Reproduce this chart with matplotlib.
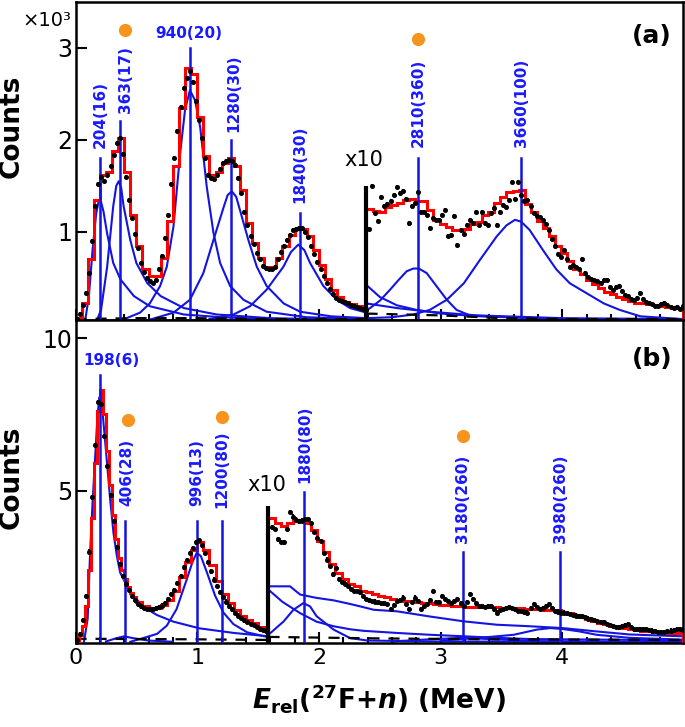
import numpy as np
import matplotlib
matplotlib.use("Agg")
import matplotlib.pyplot as plt
from matplotlib.ticker import MultipleLocator

plt.rcParams['font.family'] = 'DejaVu Sans'
plt.rcParams['mathtext.fontset'] = 'custom'
plt.rcParams['mathtext.rm'] = 'DejaVu Sans:bold'
plt.rcParams['mathtext.bf'] = 'DejaVu Sans:bold'
plt.rcParams['mathtext.it'] = 'DejaVu Sans:italic:bold'

# ---------------- panel (a) data (counts x 10^3) ----------------
# data points, 25 keV bins; x10 region starts at the black bar
cut_a = 2.39
xa_lo = 0.0125 + 0.025 * np.arange(96)
ya_lo = [0.05, 0.11, 0.20, 0.33, 0.55, 0.90, 1.28, 1.52, 1.60, 1.55,
         1.62, 1.72, 1.83, 1.97, 2.02, 1.85, 1.60, 1.35, 1.15, 0.98,
         0.82, 0.66, 0.56, 0.50, 0.46, 0.44, 0.48, 0.59, 0.74, 0.93,
         1.18, 1.52, 1.80, 2.10, 2.36, 2.56, 2.67, 2.75, 2.63, 2.42,
         2.22, 2.02, 1.80, 1.62, 1.58, 1.57, 1.62, 1.68, 1.75, 1.77,
         1.78, 1.77, 1.73, 1.58, 1.42, 1.22, 1.07, 0.95, 0.87, 0.77,
         0.70, 0.63, 0.61, 0.59, 0.60, 0.62, 0.70, 0.78, 0.85, 0.91,
         0.97, 1.02, 1.03, 1.04, 1.04, 1.00, 0.94, 0.85, 0.76, 0.67,
         0.60, 0.52, 0.44, 0.38, 0.32, 0.28, 0.26, 0.25, 0.24, 0.22,
         0.20, 0.19, 0.18, 0.17, 0.16, 0.15]
xa_hi = 2.4125 + 0.025 * np.arange(104)
ya_hi = [1.03, 1.50, 1.20, 1.12, 1.38, 1.28, 1.30, 1.33, 1.40, 1.49,
         1.42, 1.44, 1.36, 1.09, 1.28, 1.31, 1.43, 1.22, 1.21, 1.18,
         1.04, 1.15, 1.13, 1.13, 1.18, 1.24, 0.95, 0.96, 1.17, 0.86,
         1.02, 0.98, 1.07, 1.13, 1.10, 1.22, 1.07, 1.22, 1.10, 1.07,
         1.20, 1.26, 1.07, 1.22, 1.29, 1.27, 1.35, 1.54, 1.36, 1.54,
         1.40, 1.33, 1.35, 1.28, 1.20, 1.17, 1.16, 1.13, 1.08, 1.02,
         0.92, 0.85, 0.76, 0.73, 0.80, 0.70, 0.62, 0.64, 0.62, 0.60,
         0.70, 0.55, 0.51, 0.49, 0.48, 0.46, 0.44, 0.47, 0.48, 0.40,
         0.37, 0.40, 0.41, 0.36, 0.31, 0.30, 0.27, 0.26, 0.28, 0.33,
         0.27, 0.24, 0.22, 0.21, 0.19, 0.19, 0.21, 0.22, 0.20, 0.18,
         0.17, 0.18, 0.16, 0.19]

# total fit (red histogram)
fa_lo = [0.06, 0.22, 0.70, 1.35, 1.62, 1.65, 1.88, 2.02, 1.65, 1.18,
         0.85, 0.60, 0.52, 0.52, 0.72, 1.12, 1.72, 2.35, 2.78, 2.72,
         2.25, 1.82, 1.62, 1.65, 1.75, 1.80, 1.72, 1.45, 1.10, 0.88,
         0.72, 0.62, 0.62, 0.72, 0.85, 0.97, 1.03, 1.03, 0.95, 0.80,
         0.64, 0.49, 0.37, 0.29, 0.24, 0.21, 0.19, 0.17]
fa_hi = [1.25, 1.23, 1.22, 1.27, 1.29, 1.31, 1.35, 1.36, 1.34, 1.33,
         1.24, 1.13, 1.08, 1.05, 1.02, 1.02, 1.03, 1.08, 1.11, 1.18,
         1.22, 1.31, 1.38, 1.43, 1.44, 1.45, 1.30, 1.22, 1.12, 1.04,
         0.95, 0.85, 0.77, 0.68, 0.60, 0.54, 0.48, 0.43, 0.39, 0.35,
         0.32, 0.29, 0.27, 0.25, 0.23, 0.22, 0.21, 0.20, 0.19, 0.18,
         0.18, 0.17]

# resonance components (blue)
comp_a = [
    ([0.08, 0.11, 0.14, 0.17, 0.19, 0.205, 0.23, 0.26, 0.31, 0.37, 0.48, 0.61, 0.89, 1.2, 1.6, 2.0, 2.39],
     [0.04, 0.30, 0.80, 1.20, 1.33, 1.35, 1.22, 0.98, 0.66, 0.48, 0.30, 0.19, 0.10, 0.07, 0.05, 0.04, 0.04]),
    ([0.17, 0.21, 0.26, 0.31, 0.335, 0.355, 0.375, 0.395, 0.45, 0.50, 0.59, 0.70, 0.89, 1.16, 1.6, 2.39],
     [0.02, 0.15, 0.62, 1.28, 1.50, 1.55, 1.48, 1.28, 0.91, 0.66, 0.44, 0.30, 0.17, 0.10, 0.06, 0.04]),
    ([0.30, 0.42, 0.53, 0.61, 0.695, 0.75, 0.805, 0.86, 0.90, 0.94, 0.982, 1.024, 1.078, 1.133, 1.188, 1.27, 1.38, 1.57, 1.9, 2.39],
     [0.03, 0.06, 0.12, 0.22, 0.41, 0.62, 1.06, 1.86, 2.33, 2.54, 2.43, 2.14, 1.49, 0.99, 0.66, 0.41, 0.26, 0.13, 0.07, 0.05]),
    ([0.6, 0.805, 0.94, 1.05, 1.133, 1.215, 1.25, 1.284, 1.32, 1.35, 1.42, 1.489, 1.57, 1.71, 1.845, 2.1, 2.39],
     [0.04, 0.12, 0.26, 0.55, 0.91, 1.26, 1.40, 1.44, 1.38, 1.24, 0.91, 0.62, 0.41, 0.22, 0.13, 0.08, 0.06]),
    ([1.1, 1.298, 1.434, 1.57, 1.708, 1.77, 1.83, 1.88, 1.927, 2.036, 2.146, 2.255, 2.39],
     [0.05, 0.10, 0.19, 0.37, 0.62, 0.78, 0.86, 0.80, 0.66, 0.41, 0.26, 0.17, 0.12]),
    ([2.39, 2.42, 2.50, 2.584, 2.65, 2.72, 2.775, 2.82, 2.885, 2.97, 3.05, 3.13, 3.24, 3.4, 4.0, 4.99],
     [0.15, 0.17, 0.25, 0.37, 0.47, 0.57, 0.60, 0.60, 0.55, 0.40, 0.26, 0.15, 0.09, 0.08, 0.05, 0.04]),
    ([2.39, 2.6, 2.775, 2.91, 3.05, 3.19, 3.32, 3.46, 3.54, 3.61, 3.66, 3.73, 3.84, 3.95, 4.06, 4.2, 4.34, 4.47, 4.64, 4.99],
     [0.06, 0.07, 0.10, 0.15, 0.26, 0.44, 0.69, 0.95, 1.07, 1.13, 1.11, 1.02, 0.80, 0.59, 0.44, 0.33, 0.22, 0.15, 0.08, 0.05]),
    ([2.39, 2.5, 2.64, 2.8, 3.0, 3.32, 4.0, 4.99],
     [0.42, 0.29, 0.20, 0.15, 0.11, 0.08, 0.05, 0.04]),
    ([2.39, 2.64, 2.91, 3.3, 4.0, 4.99],
     [0.22, 0.17, 0.13, 0.09, 0.06, 0.05]),
]
bg_a = ([0.0, 0.5, 1.0, 1.5, 2.0, 2.39], [0.05, 0.06, 0.06, 0.05, 0.05, 0.05])
bg_a_hi = ([2.39, 3.0, 3.5, 4.0, 4.99], [0.11, 0.09, 0.06, 0.05, 0.05])

lines_a = [0.204, 0.363, 0.94, 1.28, 1.84, 2.81, 3.66]
tops_a = [1.80, 2.20, 3.00, 2.00, 1.20, 1.80, 1.80]
labels_a = ['204(16)', '363(17)', '940(20)', '1280(30)', '1840(30)', '2810(360)', '3660(100)']
lab_x_a = [0.203, 0.408, 0.929, 1.298, 1.845, 2.816, 3.665]
lab_y_a = [1.91, 2.29, 3.16, 2.09, 1.31, 1.92, 1.92]
dots_a = ([0.408, 2.81], [3.19, 3.10])

# ---------------- panel (b) data ----------------
cut_b = 1.585
xb_lo = 0.0125 + 0.025 * np.arange(63)
yb_lo = [0.10, 0.30, 0.75, 1.55, 3.00, 4.80, 6.50, 7.90, 7.85, 6.80,
         5.80, 4.85, 4.00, 3.15, 2.60, 2.20, 1.95, 1.74, 1.55, 1.40,
         1.29, 1.20, 1.14, 1.11, 1.10, 1.12, 1.16, 1.19, 1.23, 1.32,
         1.45, 1.60, 1.75, 1.98, 2.20, 2.48, 2.72, 2.95, 3.12, 3.30,
         3.38, 3.20, 2.95, 2.65, 2.35, 2.08, 1.86, 1.68, 1.50, 1.36,
         1.20, 1.10, 0.99, 0.90, 0.82, 0.74, 0.68, 0.62, 0.58, 0.52,
         0.47, 0.43, 0.40]
xb_hi = 1.6125 + 0.025 * np.arange(136)
yb_hi = [3.80, 3.75, 3.40, 3.32, 3.30, 3.75, 4.30, 4.15, 4.05, 3.99,
         4.02, 4.08, 4.06, 3.95, 3.65, 3.45, 3.35, 2.96, 2.74, 2.53,
         2.25, 2.45, 2.10, 2.00, 1.95, 1.87, 1.78, 1.71, 1.70, 1.66,
         1.55, 1.44, 1.42, 1.38, 1.36, 1.33, 1.32, 1.30, 1.28, 1.11,
         1.25, 1.38, 1.42, 1.49, 1.28, 1.11, 1.35, 1.49, 1.38, 1.11,
         1.22, 1.28, 1.40, 1.71, 1.33, 1.35, 1.55, 1.45, 1.38, 1.30,
         1.38, 1.44, 1.30, 1.22, 1.35, 1.60, 1.44, 1.30, 1.22, 1.20,
         1.17, 1.20, 1.22, 1.10, 1.00, 1.08, 1.11, 1.14, 1.17, 1.15,
         1.10, 1.06, 1.05, 1.03, 1.00, 1.15, 1.28, 1.18, 1.11, 1.15,
         1.22, 1.28, 1.15, 1.06, 1.03, 1.00, 1.00, 0.97, 0.95, 0.92,
         0.90, 0.89, 0.87, 0.84, 0.80, 0.78, 0.74, 0.72, 0.70, 0.68,
         0.63, 0.58, 0.56, 0.53, 0.51, 0.55, 0.58, 0.62, 0.52, 0.47,
         0.46, 0.47, 0.46, 0.45, 0.43, 0.41, 0.39, 0.36, 0.35, 0.37,
         0.40, 0.41, 0.43, 0.45, 0.46, 0.44]

fb_lo_edges = [0.0, 0.025, 0.05, 0.075, 0.1, 0.125, 0.15, 0.175, 0.2, 0.225,
               0.25, 0.275, 0.3, 0.325, 0.35, 0.375, 0.4, 0.425, 0.45, 0.475,
               0.5, 0.55, 0.6, 0.65, 0.7, 0.75, 0.8, 0.85, 0.9, 0.95,
               1.0, 1.05, 1.1, 1.15, 1.2, 1.25, 1.3, 1.35, 1.4, 1.45,
               1.5, 1.55, 1.585]
fb_lo = [0.08, 0.25, 0.55, 1.20, 2.40, 4.10, 5.90, 7.60, 8.30, 7.50,
         6.30, 5.20, 4.20, 3.40, 2.80, 2.40, 2.10, 1.85, 1.65, 1.50,
         1.35, 1.22, 1.14, 1.15, 1.24, 1.42, 1.72, 2.15, 2.65, 3.05,
         3.30, 3.05, 2.55, 2.02, 1.62, 1.32, 1.08, 0.90, 0.76, 0.64,
         0.54, 0.46]
fb_hi = [4.10, 3.95, 3.85, 3.95, 4.02, 4.05, 3.95, 3.70, 3.35, 3.00,
         2.60, 2.30, 2.10, 1.95, 1.87, 1.72, 1.68, 1.60, 1.53, 1.50,
         1.45, 1.42, 1.39, 1.37, 1.35, 1.31, 1.30, 1.27, 1.26, 1.24,
         1.21, 1.20, 1.19, 1.18, 1.18, 1.18, 1.17, 1.17, 1.16, 1.15,
         1.15, 1.14, 1.13, 1.11, 1.10, 1.09, 1.09, 1.08, 1.00, 0.97,
         0.92, 0.85, 0.78, 0.72, 0.66, 0.61, 0.57, 0.52, 0.49, 0.45,
         0.42, 0.40, 0.38, 0.36, 0.35, 0.34, 0.33, 0.32]

comp_b = [
    ([0.07, 0.10, 0.12, 0.14, 0.16, 0.18, 0.195, 0.216, 0.235, 0.257, 0.285, 0.312, 0.34, 0.367, 0.422, 0.477, 0.56, 0.668, 0.805, 1.02, 1.3, 1.585],
     [0.05, 0.80, 2.96, 4.60, 6.00, 7.40, 8.06, 7.85, 7.00, 6.00, 4.70, 3.61, 2.85, 2.31, 1.87, 1.55, 1.18, 0.92, 0.70, 0.48, 0.33, 0.22]),
    ([0.25, 0.33, 0.40, 0.47, 0.6, 0.8],
     [0.05, 0.15, 0.22, 0.16, 0.08, 0.04]),
    ([0.45, 0.53, 0.67, 0.75, 0.83, 0.914, 0.96, 0.996, 1.03, 1.08, 1.147, 1.215, 1.297, 1.41, 1.585],
     [0.04, 0.13, 0.30, 0.57, 1.11, 2.09, 2.65, 2.96, 2.85, 2.31, 1.55, 1.00, 0.62, 0.35, 0.19]),
    ([1.585, 1.762, 1.845, 1.98, 2.12, 2.256, 2.34, 2.45, 2.64, 2.91, 3.19, 3.46, 3.73, 4.0, 4.28, 4.55, 4.99],
     [1.86, 1.86, 1.59, 1.48, 1.40, 1.28, 1.20, 1.09, 1.04, 0.87, 0.71, 0.60, 0.55, 0.49, 0.38, 0.28, 0.22]),
    ([1.585, 1.70, 1.845, 1.98, 2.12, 2.256, 2.365, 2.64, 2.91, 3.19, 3.46, 3.73, 4.99],
     [1.75, 1.35, 0.98, 0.70, 0.55, 0.45, 0.40, 0.33, 0.27, 0.22, 0.17, 0.13, 0.09]),
    ([1.585, 1.71, 1.79, 1.872, 1.927, 1.98, 2.12, 2.256, 2.4, 3.0, 4.99],
     [0.27, 0.71, 1.09, 1.31, 1.20, 0.88, 0.44, 0.16, 0.08, 0.05, 0.03]),
    ([2.6, 2.9, 3.18, 3.45, 3.8, 4.99],
     [0.05, 0.12, 0.17, 0.12, 0.06, 0.03]),
    ([3.0, 3.32, 3.6, 3.79, 3.9, 4.0, 4.14, 4.28, 4.55, 4.99],
     [0.08, 0.17, 0.27, 0.44, 0.49, 0.46, 0.38, 0.27, 0.17, 0.11]),
]
bg_b = ([0.0, 0.5, 1.0, 1.585], [0.14, 0.13, 0.12, 0.10])
bg_b_hi = ([1.585, 2.5, 3.5, 4.99], [0.20, 0.15, 0.12, 0.10])

lines_b = [0.198, 0.406, 0.996, 1.20, 1.88, 3.18, 3.98]
tops_b = [8.79, 3.99, 3.99, 3.99, 4.97, 3.00, 3.00]
labels_b = ['198(6)', '406(28)', '996(13)', '1200(80)', '1880(80)', '3180(260)', '3980(260)']
lab_x_b = [0.298, 0.422, 0.996, 1.20, 1.886, 3.18, 3.98]
lab_y_b = [9.28, 4.48, 4.48, 4.42, 5.24, 3.28, 3.28]
dots_b = ([0.43, 1.20, 3.18], [7.31, 7.42, 6.79])

BLUE = '#1414e0'
TXT_BLUE = '#1a1aff'
ORANGE = '#f7941d'

fig = plt.figure(figsize=(6.85, 7.27), dpi=100)
L, W = 75.5 / 685, (683 - 75.5) / 685
ax_a = fig.add_axes([L, 1 - 320 / 727, W, 318 / 727])
ax_b = fig.add_axes([L, 1 - 643 / 727, W, 323 / 727])


def draw(ax, cut, x_lo, y_lo, x_hi, y_hi, f_lo_edges, f_lo, f_hi, comps, bg, bg_hi,
         lines, tops, labels, lab_x, lab_y, dots, bar_top, err, horiz):
    for xs, ys in comps:
        ax.plot(xs, ys, color=BLUE, lw=1.5, zorder=2)
    ax.plot(*bg, color='black', lw=1.6, ls=(0, (5, 4)), zorder=2)
    ax.plot(*bg_hi, color='black', lw=1.6, ls=(0, (5, 4)), zorder=2)
    ax.stairs(f_lo, f_lo_edges, color='red', lw=2.2, zorder=3)
    hi_edges = np.append(cut + 0.05 * np.arange(len(f_hi)), 4.99)
    ax.stairs(f_hi, hi_edges, color='red', lw=2.2, zorder=3)
    for x, t in zip(lines, tops):
        ax.plot([x, x], [0, t], color=BLUE, lw=1.8, zorder=4)
    for x, y in ((x_lo, y_lo), (x_hi, y_hi)):
        ax.errorbar(x, y, yerr=err, fmt='o', ms=2.6, color='black',
                    elinewidth=1.6, capsize=0, zorder=5)
    for t, x, y in zip(labels, lab_x, lab_y):
        if t == horiz:
            ax.text(x, y, t, color=TXT_BLUE, fontsize=11, weight='bold',
                    ha='center', va='center', zorder=6)
        else:
            ax.text(x, y, t, color=TXT_BLUE, fontsize=11, weight='bold',
                    rotation=90, ha='center', va='bottom', zorder=6)
    ax.plot(dots[0], dots[1], 'o', color=ORANGE, ms=9.5, mec='none', zorder=6)
    ax.plot([cut, cut], [0, bar_top], color='black', lw=3, zorder=6,
            solid_capstyle='butt')
    ax.set_xlim(0, 4.99)
    ax.xaxis.set_major_locator(MultipleLocator(1))
    ax.xaxis.set_minor_locator(MultipleLocator(0.2))
    ax.tick_params(axis='both', which='major', direction='in', length=8,
                   width=1.5, labelsize=16)
    ax.tick_params(axis='x', which='minor', direction='in', length=4, width=1.5)
    ax.tick_params(axis='y', labelsize=17, pad=2)
    for s in ax.spines.values():
        s.set_linewidth(1.8)


draw(ax_a, cut_a, xa_lo, ya_lo, xa_hi, ya_hi,
     np.append(0.05 * np.arange(len(fa_lo)), cut_a), fa_lo, fa_hi,
     comp_a, bg_a, bg_a_hi, lines_a, tops_a, labels_a, lab_x_a, lab_y_a,
     dots_a, 1.50, 0.022, '940(20)')
draw(ax_b, cut_b, xb_lo, yb_lo, xb_hi, yb_hi, fb_lo_edges, fb_lo, fb_hi,
     comp_b, bg_b, bg_b_hi, lines_b, tops_b, labels_b, lab_x_b, lab_y_b,
     dots_b, 4.48, 0.07, '198(6)')

ax_a.set_ylim(0.04, 3.5)
ax_a.set_yticks([1, 2, 3])
ax_a.tick_params(axis='x', labelbottom=False)
ax_b.set_ylim(0, 10.6)
ax_b.set_yticks([5, 10])

ax_a.text(2.37, 1.78, 'x10', fontsize=15, ha='center', va='center')
ax_b.text(1.571, 5.19, 'x10', fontsize=15, ha='center', va='center')
ax_a.text(0.949, 0.893, '(a)', transform=ax_a.transAxes, fontsize=18,
          weight='bold', ha='center', va='center')
ax_b.text(0.949, 0.879, '(b)', transform=ax_b.transAxes, fontsize=18,
          weight='bold', ha='center', va='center')
fig.text(22 / 685, 1 - 21 / 727, '\u00d710\u00b3', fontsize=14, ha='left', va='center')

for ax, yc in ((ax_a, 0.61), (ax_b, 0.514)):
    ax.set_ylabel('Counts', fontsize=19, weight='bold')
    ax.yaxis.set_label_coords(-0.083, yc)

ax_b.set_xlabel(r'$\mathit{E}_{\mathrm{rel}}$(${}^{\mathrm{27}}$F+$\mathit{n}$) (MeV)',
                fontsize=19, weight='bold', labelpad=10)

fig.savefig('out.png', dpi=100)
